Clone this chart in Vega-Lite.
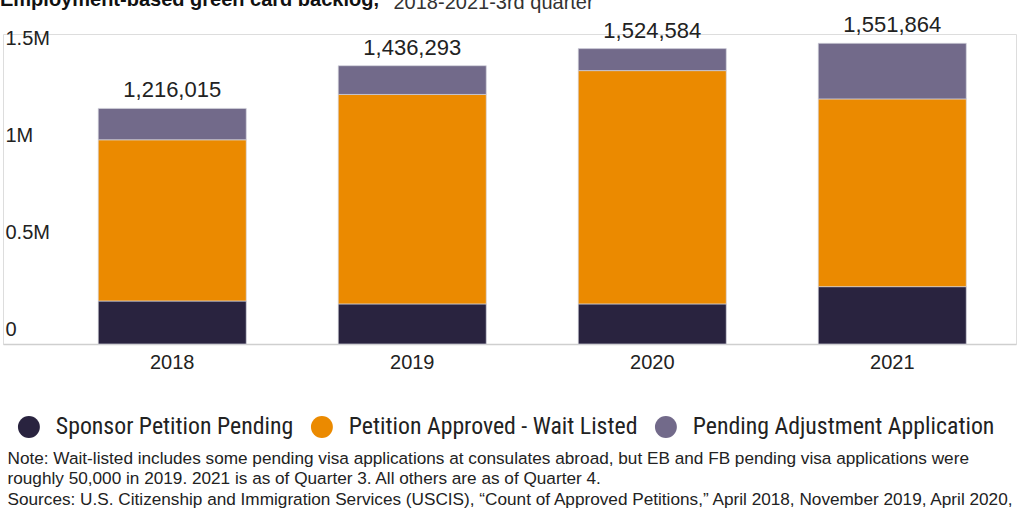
{
  "$schema": "https://vega.github.io/schema/vega-lite/v6.json",
  "autosize": {"type": "none"},
  "width": 1013,
  "height": 310,
  "padding": {"left": 3, "top": 34, "right": 8, "bottom": 168},
  "background": "white",
  "title": {
    "text": "Employment-based green card backlog,",
    "anchor": "start",
    "frame": "group",
    "font": "Liberation Sans",
    "fontSize": 20,
    "fontWeight": "bold",
    "color": "#111111",
    "baseline": "alphabetic",
    "offset": 8,
    "dx": -3,
    "dy": 42
  },
  "data": {
    "values": [
      {"year": "2018", "category": "Sponsor Petition Pending", "order": 1, "count": 222000},
      {"year": "2018", "category": "Petition Approved - Wait Listed", "order": 2, "count": 832000},
      {"year": "2018", "category": "Pending Adjustment Application", "order": 3, "count": 162015},
      {"year": "2019", "category": "Sponsor Petition Pending", "order": 1, "count": 207000},
      {"year": "2019", "category": "Petition Approved - Wait Listed", "order": 2, "count": 1081000},
      {"year": "2019", "category": "Pending Adjustment Application", "order": 3, "count": 148293},
      {"year": "2020", "category": "Sponsor Petition Pending", "order": 1, "count": 207000},
      {"year": "2020", "category": "Petition Approved - Wait Listed", "order": 2, "count": 1204000},
      {"year": "2020", "category": "Pending Adjustment Application", "order": 3, "count": 113584},
      {"year": "2021", "category": "Sponsor Petition Pending", "order": 1, "count": 296000},
      {"year": "2021", "category": "Petition Approved - Wait Listed", "order": 2, "count": 969000},
      {"year": "2021", "category": "Pending Adjustment Application", "order": 3, "count": 286864}
    ]
  },
  "encoding": {
    "x": {
      "field": "year",
      "type": "nominal",
      "scale": {"paddingInner": 0.3833, "paddingOuter": 0.302, "align": 0.657},
      "axis": {
        "labelAngle": 0,
        "ticks": false,
        "domainColor": "#cfcfcf",
        "domainWidth": 1.5,
        "labelPadding": 8,
        "labelFont": "Liberation Sans",
        "labelFontSize": 20,
        "labelColor": "#222222",
        "title": [
          "Note: Wait-listed includes some pending visa applications at consulates abroad, but EB and FB pending visa applications were",
          "roughly 50,000 in 2019. 2021 is as of Quarter 3. All others are as of Quarter 4.",
          "Sources: U.S. Citizenship and Immigration Services (USCIS), “Count of Approved Petitions,” April 2018, November 2019, April 2020,"
        ],
        "titleAnchor": "start",
        "titleAlign": "left",
        "titleBaseline": "alphabetic",
        "titleX": 4,
        "titleY": 119,
        "titleFont": "Liberation Sans",
        "titleFontSize": 17.2,
        "titleFontWeight": "normal",
        "titleColor": "#222222",
        "titleLineHeight": 20.5
      }
    }
  },
  "layer": [
    {
      "mark": {"type": "bar", "stroke": "#d4d4dc", "strokeWidth": 0.7},
      "encoding": {
        "y": {
          "field": "count",
          "type": "quantitative",
          "aggregate": "sum",
          "stack": "zero",
          "scale": {"domain": [0, 1600000], "nice": false},
          "axis": {
            "values": [0, 500000, 1000000, 1500000],
            "labelExpr": "datum.value == 0 ? '0' : datum.value == 500000 ? '0.5M' : datum.value == 1000000 ? '1M' : '1.5M'",
            "grid": false,
            "domain": false,
            "ticks": false,
            "labelAlign": "left",
            "labelBaseline": "middle",
            "labelPadding": -2,
            "labelOffset": -15,
            "labelFont": "Liberation Sans",
            "labelFontSize": 20,
            "labelColor": "#222222",
            "title": "2018-2021-3rd quarter",
            "titleAngle": 0,
            "titleAlign": "left",
            "titleBaseline": "alphabetic",
            "titleX": 390,
            "titleY": -26,
            "titleFont": "Liberation Sans",
            "titleFontSize": 20,
            "titleFontWeight": "normal",
            "titleColor": "#333333"
          }
        },
        "color": {
          "field": "category",
          "type": "nominal",
          "scale": {
            "domain": ["Sponsor Petition Pending", "Petition Approved - Wait Listed", "Pending Adjustment Application"],
            "range": ["#29233f", "#eb8a00", "#726a8a"]
          },
          "legend": {
            "orient": "none",
            "direction": "horizontal",
            "legendX": 14,
            "legendY": 381,
            "title": null,
            "symbolType": "circle",
            "symbolSize": 480,
            "symbolStrokeWidth": 0,
            "labelFont": "Liberation Sans Narrow, Roboto Condensed, DejaVu Sans Condensed, Liberation Sans",
            "labelFontSize": 23.8,
            "labelColor": "#222222",
            "labelOffset": 15,
            "columnPadding": 16,
            "labelLimit": 400
          }
        },
        "order": {"field": "order", "type": "quantitative"}
      }
    },
    {
      "transform": [{"aggregate": [{"op": "sum", "field": "count", "as": "total"}], "groupby": ["year"]}],
      "mark": {
        "type": "text",
        "baseline": "alphabetic",
        "dy": -11,
        "font": "Liberation Sans",
        "fontSize": 22,
        "color": "#222222"
      },
      "encoding": {
        "y": {"field": "total", "type": "quantitative"},
        "text": {"field": "total", "type": "quantitative", "format": ","}
      }
    }
  ]
}
